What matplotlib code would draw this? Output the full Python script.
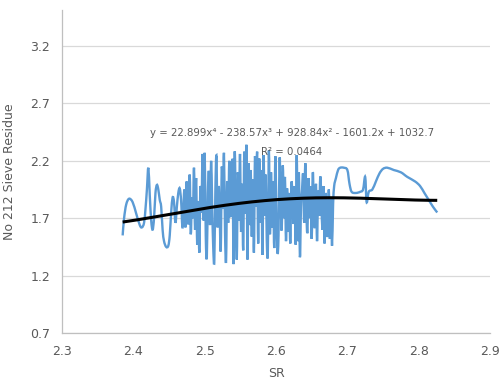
"""Sieve residue against SR with a fourth-order polynomial trend line."""

from __future__ import annotations

import matplotlib

matplotlib.use("Agg")

import matplotlib.pyplot as plt
import numpy as np
from matplotlib.patches import PathPatch
from matplotlib.path import Path


# smooth run at low SR
SR_LOW = [
    2.385, 2.387, 2.390, 2.394, 2.399, 2.404, 2.409, 2.412, 2.415, 2.417,
    2.419, 2.421, 2.423, 2.425, 2.427, 2.429, 2.431, 2.433, 2.435, 2.437,
    2.439, 2.441, 2.443, 2.446, 2.449, 2.451, 2.453, 2.455, 2.457, 2.459,
    2.461, 2.463, 2.465, 2.467, 2.469,
]
RESIDUE_LOW = [
    1.55, 1.70, 1.82, 1.87, 1.84, 1.74, 1.64, 1.62, 1.66, 1.78,
    1.95, 2.14, 1.90, 1.68, 1.60, 1.70, 1.92, 1.99, 1.95, 1.86,
    1.80, 1.60, 1.50, 1.45, 1.46, 1.55, 1.75, 1.88, 1.84, 1.66,
    1.80, 1.92, 1.96, 1.85, 1.62,
]

# dense, noisy middle band
SR_MID = [
    2.4715, 2.4730, 2.4745, 2.4760, 2.4775, 2.4790, 2.4805, 2.4820, 2.4835, 2.4850,
    2.4865, 2.4880, 2.4895, 2.4910, 2.4925, 2.4940, 2.4955, 2.4970, 2.4985, 2.5000,
    2.5015, 2.5030, 2.5045, 2.5060, 2.5075, 2.5090, 2.5105, 2.5120, 2.5135, 2.5150,
    2.5165, 2.5180, 2.5195, 2.5210, 2.5225, 2.5240, 2.5255, 2.5270, 2.5285, 2.5300,
    2.5315, 2.5330, 2.5345, 2.5360, 2.5375, 2.5390, 2.5405, 2.5420, 2.5435, 2.5450,
    2.5465, 2.5480, 2.5495, 2.5510, 2.5525, 2.5540, 2.5555, 2.5570, 2.5585, 2.5600,
    2.5615, 2.5630, 2.5645, 2.5660, 2.5675, 2.5690, 2.5705, 2.5720, 2.5735, 2.5750,
    2.5765, 2.5780, 2.5795, 2.5810, 2.5825, 2.5840, 2.5855, 2.5870, 2.5885, 2.5900,
    2.5915, 2.5930, 2.5945, 2.5960, 2.5975, 2.5990, 2.6005, 2.6020, 2.6035, 2.6050,
    2.6065, 2.6080, 2.6095, 2.6110, 2.6125, 2.6140, 2.6155, 2.6170, 2.6185, 2.6200,
    2.6215, 2.6230, 2.6245, 2.6260, 2.6275, 2.6290, 2.6305, 2.6320, 2.6335, 2.6350,
    2.6365, 2.6380, 2.6395, 2.6410, 2.6425, 2.6440, 2.6455, 2.6470, 2.6485, 2.6500,
    2.6515, 2.6530, 2.6545, 2.6560, 2.6575, 2.6590, 2.6605, 2.6620, 2.6635, 2.6650,
    2.6665, 2.6680, 2.6695, 2.6710, 2.6725, 2.6740, 2.6755, 2.6770, 2.6785, 2.6800,
    2.6815,
]
RESIDUE_MID = [
    1.95, 1.62, 2.02, 1.78, 1.66, 2.08, 1.56, 1.88, 1.70, 2.14,
    1.60, 2.05, 1.47, 1.85, 1.40, 1.98, 1.75, 2.26, 1.68, 2.27,
    1.55, 1.36, 1.92, 2.10, 1.64, 2.20, 1.80, 1.44, 1.33, 1.95,
    2.24, 1.62, 1.98, 1.74, 1.42, 2.15, 1.78, 2.27, 1.58, 1.33,
    2.02, 1.66, 2.20, 1.72, 1.90, 2.20, 1.30, 2.27, 1.82, 1.34,
    2.10, 1.68, 2.26, 1.58, 2.00, 1.42, 2.28, 1.74, 2.34, 1.34,
    2.18, 1.64, 2.12, 1.54, 2.04, 1.40, 2.24, 1.80, 2.28, 1.48,
    2.22, 1.66, 2.12, 1.38, 2.25, 1.72, 2.08, 1.52, 1.40, 2.29,
    1.56, 2.10, 1.62, 2.02, 1.44, 2.24, 1.76, 1.40, 1.55, 2.23,
    1.86, 1.60, 2.16, 1.70, 2.06, 1.50, 1.96, 1.58, 1.92, 1.48,
    2.00, 1.90, 1.65, 1.98, 1.47, 2.25, 1.50, 2.10, 1.36, 1.80,
    1.95, 2.08, 1.66, 2.18, 1.76, 1.58, 2.05, 1.70, 1.98, 1.52,
    2.10, 1.80, 1.62, 2.00, 1.50, 1.94, 1.72, 2.06, 1.88, 1.60,
    1.98, 1.48, 1.92, 1.66, 1.55, 1.95, 1.52, 1.88, 1.46, 1.82,
    1.98,
]

# smoother run at high SR
SR_HIGH = [
    2.684, 2.687, 2.690, 2.695, 2.700, 2.703, 2.706, 2.712, 2.718, 2.722,
    2.725, 2.727, 2.730, 2.735, 2.740, 2.745, 2.750, 2.756, 2.765, 2.775,
    2.784, 2.795, 2.802, 2.808, 2.813, 2.820, 2.826,
]
RESIDUE_HIGH = [
    2.05, 2.12, 2.14, 2.14, 2.12, 2.00, 1.93, 1.92, 1.93, 1.95,
    2.06, 1.84, 1.93, 1.95, 2.02, 2.09, 2.13, 2.14, 2.12, 2.10,
    2.06, 2.02, 1.98, 1.92, 1.87, 1.80, 1.75,
]

# Excel trend line: y = 22.899x^4 - 238.57x^3 + 928.84x^2 - 1601.2x + 1032.7
TREND_COEFFS = [22.899, -238.57, 928.84, -1601.2, 1032.7]
TREND_LABEL = "y = 22.899x\u2074 - 238.57x\u00b3 + 928.84x\u00b2 - 1601.2x + 1032.7"
R2_LABEL = "R\u00b2 = 0.0464"

Y_TICKS = [0.7, 1.2, 1.7, 2.2, 2.7, 3.2]
X_TICKS = [2.3, 2.4, 2.5, 2.6, 2.7, 2.8, 2.9]

TEXT_GREY = "#595959"
GRID_GREY = "#D9D9D9"
AXIS_GREY = "#BFBFBF"
LINE_BLUE = "#5B9BD5"


def smoothed_path(x: list[float], y: list[float]) -> Path:
    """Catmull-Rom style Bezier path through the points (like Excel smoothing)."""
    pts = np.column_stack([x, y])
    n = len(pts)
    verts = [pts[0]]
    codes = [Path.MOVETO]
    for i in range(n - 1):
        p0 = pts[max(i - 1, 0)]
        p1 = pts[i]
        p2 = pts[i + 1]
        p3 = pts[min(i + 2, n - 1)]
        verts += [p1 + (p2 - p0) / 6.0, p2 - (p3 - p1) / 6.0, p2]
        codes += [Path.CURVE4] * 3
    return Path(verts, codes)


def main() -> None:
    plt.rcParams["font.family"] = ["DejaVu Sans"]

    sr = SR_LOW + SR_MID + SR_HIGH
    residue = RESIDUE_LOW + RESIDUE_MID + RESIDUE_HIGH
    assert len(sr) == len(residue)

    fig = plt.figure(figsize=(5.03, 3.85), dpi=100)
    ax = fig.add_axes([0.1233, 0.1351, 0.8509, 0.8389])

    ax.add_patch(PathPatch(smoothed_path(sr, residue), facecolor="none",
                           edgecolor=LINE_BLUE, linewidth=1.7, zorder=2))

    sr_arr = np.asarray(sr)
    ax.plot(sr_arr, np.polyval(TREND_COEFFS, sr_arr), color="black",
            linewidth=2.2, solid_capstyle="butt", zorder=3)

    ax.text(2.622, 2.442, TREND_LABEL, fontsize=7.3, color=TEXT_GREY,
            ha="center", va="center", zorder=4)
    ax.text(2.622, 2.277, R2_LABEL, fontsize=7.3, color=TEXT_GREY,
            ha="center", va="center", zorder=4)

    ax.set_xlim(2.3, 2.9)
    ax.set_ylim(0.7, 3.514)
    ax.set_xticks(X_TICKS)
    ax.set_yticks(Y_TICKS)
    ax.set_xticklabels([f"{v:.1f}" for v in X_TICKS])
    ax.set_yticklabels([f"{v:.1f}" for v in Y_TICKS])
    ax.tick_params(axis="both", length=0, labelsize=9, labelcolor=TEXT_GREY)
    ax.tick_params(axis="y", pad=8.5)
    ax.tick_params(axis="x", pad=9)

    ax.yaxis.grid(True, color=GRID_GREY, linewidth=0.9)
    ax.set_axisbelow(True)
    for side in ("top", "right"):
        ax.spines[side].set_visible(False)
    for side in ("left", "bottom"):
        ax.spines[side].set_color(AXIS_GREY)
        ax.spines[side].set_linewidth(0.9)

    ax.set_xlabel("SR", fontsize=9, color=TEXT_GREY, labelpad=6)
    ax.set_ylabel("No 212 Sieve Residue", fontsize=9, color=TEXT_GREY,
                  labelpad=10)

    fig.savefig("out.png", dpi=100)
    plt.close(fig)


if __name__ == "__main__":
    main()
